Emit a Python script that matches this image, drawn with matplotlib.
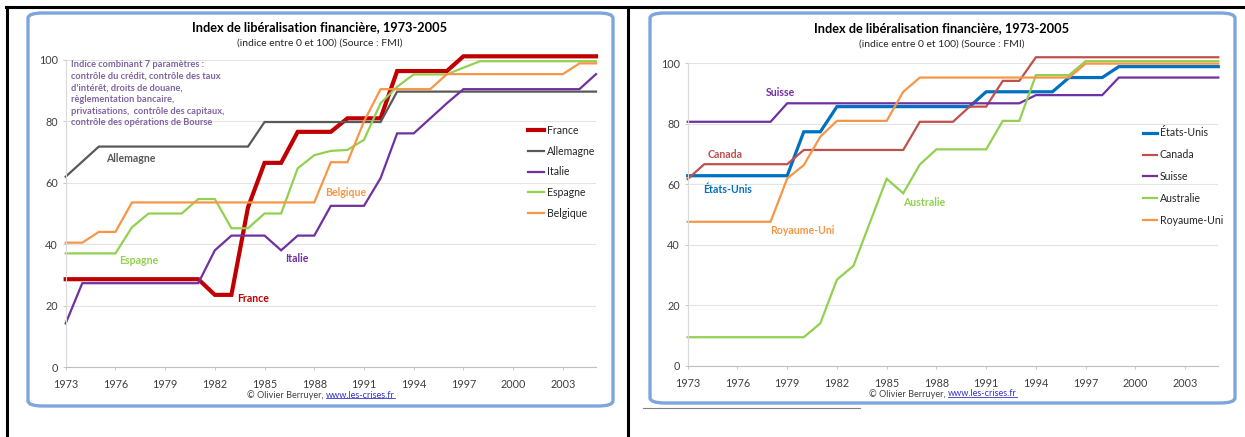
import matplotlib
matplotlib.use("Agg")
import matplotlib.pyplot as plt
from matplotlib.patches import FancyBboxPatch
from matplotlib.lines import Line2D

plt.rcParams['font.family'] = ['Lato', 'DejaVu Sans']

years = list(range(1973, 2006))
year_ticks = list(range(1973, 2004, 3))
y_ticks = [0, 20, 40, 60, 80, 100]

# Europe
france = [28.6] * 9 + [23.5, 23.5, 52, 66.5, 66.5, 76.6, 76.6, 76.6, 81, 81, 81,
                       96.4, 96.4, 96.4, 96.4] + [101.2] * 9
allemagne = [62, 66.9] + [71.8] * 10 + [79.8] * 8 + [89.7] * 13
italie = [14.2] + [27.3] * 8 + [38, 42.8, 42.8, 42.8, 38, 42.8, 42.8, 52.5, 52.5,
                                52.5, 61.5, 76.1, 76.1, 81, 85.9] + [90.5] * 8 + [95.4]
espagne = [37] * 4 + [45.5, 50, 50, 50, 54.7, 54.7, 45.2, 45.2, 50, 50, 64.7, 69,
                      70.4, 70.7, 74, 85.9, 91.3, 95.3, 95.3, 95.3, 97.5] + [99.6] * 8
belgique = [40.5, 40.5, 44, 44] + [53.6] * 12 + [66.7, 66.7, 80] + [90.5] * 4 \
    + [95.4] * 8 + [98.9, 98.9]

# Amerique du Nord, Suisse, Australie, Royaume-Uni
etats_unis = [62.8] * 7 + [77.3, 77.3] + [85.6] * 9 + [90.5] * 5 + [95.2] * 3 + [98.8] * 7
canada = [61.7] + [66.6] * 6 + [71.3] * 7 + [80.6] * 3 + [85.6] * 2 + [94.1] * 2 + [101.9] * 12
suisse = [80.6] * 6 + [86.7] * 15 + [89.4] * 5 + [95.2] * 7
australie = [9.5] * 8 + [14.1, 28.5, 33.1, 47.5, 61.8, 57, 66.5] + [71.5] * 4 \
    + [80.9] * 2 + [96] * 3 + [100.6] * 9
royaume_uni = [47.6] * 6 + [61.9, 66.3, 75.7] + [80.9] * 4 + [90.5] + [95.2] * 10 + [99.8] * 9

left_series = [
    ("France", france, "#C00000", 3.0),
    ("Allemagne", allemagne, "#595959", 1.6),
    ("Italie", italie, "#7030A0", 1.6),
    ("Espagne", espagne, "#92D050", 1.6),
    ("Belgique", belgique, "#F79646", 1.6),
]
right_series = [
    ("États-Unis", etats_unis, "#0070C0", 2.3),
    ("Canada", canada, "#C0504D", 1.6),
    ("Suisse", suisse, "#7030A0", 1.6),
    ("Australie", australie, "#92D050", 1.6),
    ("Royaume-Uni", royaume_uni, "#F79646", 1.6),
]

title = "Index de libéralisation financière, 1973-2005"
subtitle = "(indice entre 0 et 100) (Source : FMI)"
note = ("Indice combinant 7 paramètres :\n"
        "contrôle du crédit, contrôle des taux\n"
        "d'intérêt, droits de douane,\n"
        "règlementation bancaire,\n"
        "privatisations,  contrôle des capitaux,\n"
        "contrôle des opérations de Bourse")

W, H = 1245, 437
fig = plt.figure(figsize=(W / 100, H / 100), dpi=100)
fig.patch.set_facecolor("white")


def fx(px):
    return px / W


def fy(py):
    return 1 - py / H


def panel_box(x0, y0, x1, y1):
    box = FancyBboxPatch((fx(x0), fy(y1)), fx(x1 - x0), (y1 - y0) / H,
                         boxstyle="round,pad=0,rounding_size=0.012",
                         transform=fig.transFigure, facecolor="white",
                         edgecolor="#7FA6DA", linewidth=2.4, zorder=0)
    fig.add_artist(box)


def setup_axes(ax):
    ax.set_xlim(1973, 2005)
    ax.set_ylim(0, 100)
    ax.set_xticks(year_ticks)
    ax.set_yticks(y_ticks)
    ax.tick_params(axis="both", labelsize=7.8, colors="#404040", length=2.5,
                   width=0.6, pad=3)
    ax.tick_params(axis="x", color="#BFBFBF", pad=6)
    ax.tick_params(axis="y", color="#BFBFBF")
    ax.yaxis.grid(True, color="#E3E3E3", linewidth=0.8)
    ax.set_axisbelow(True)
    for s in ("top", "right"):
        ax.spines[s].set_visible(False)
    ax.spines["bottom"].set_color("#BFBFBF")
    ax.spines["left"].set_color("#D9D9D9")
    ax.patch.set_alpha(0)


def footer(xsplit, y):
    fig.text(fx(xsplit), fy(y), "© Olivier Berruyer, ", fontsize=6.6,
             color="#404040", ha="right", va="center")
    return fig.text(fx(xsplit), fy(y), "www.les-crises.fr", fontsize=6.6,
                    color="#3333CC", ha="left", va="center")


# outer table frame
fig.add_artist(Line2D([fx(6), 1], [fy(7), fy(7)], color="black", lw=2.2,
                      transform=fig.transFigure))
fig.add_artist(Line2D([fx(7), fx(7)], [0, fy(7)], color="black", lw=2.2,
                      transform=fig.transFigure))
fig.add_artist(Line2D([fx(628), fx(628)], [0, fy(7)], color="black", lw=2.2,
                      transform=fig.transFigure))
fig.add_artist(Line2D([fx(643), fx(860)], [fy(408), fy(408)], color="#808080",
                      lw=0.8, transform=fig.transFigure))

panel_box(28, 13, 613, 406)
panel_box(650, 13, 1235, 403)

# left panel
axl = fig.add_axes([fx(65.7), fy(367), fx(596 - 65.7), (367 - 60) / H])
setup_axes(axl)
for name, vals, col, lw in left_series:
    axl.plot(years, vals, color=col, lw=lw, label=name, clip_on=False,
             solid_joinstyle="miter")
fig.text(fx(320), fy(27), title, fontsize=9.2, fontweight="bold",
         ha="center", va="center", color="black")
fig.text(fx(320), fy(43), subtitle, fontsize=7.5, ha="center", va="center",
         color="#262626")
fig.text(fx(71), fy(60), note, fontsize=6.7, fontweight="bold", color="#8064A2",
         ha="left", va="top", linespacing=1.38)
left_labels = [("Allemagne", 106, 158, "#595959"), ("Espagne", 119, 260, "#92D050"),
               ("France", 237, 298, "#C00000"), ("Italie", 285, 258, "#7030A0"),
               ("Belgique", 325, 193, "#F79646")]
for txt, x, y, col in left_labels:
    fig.text(fx(x), fy(y), txt, fontsize=7.6, fontweight="bold", color=col,
             ha="left", va="center")
axl.legend(loc="upper left", bbox_to_anchor=(fx(528), fy(125)),
           bbox_transform=fig.transFigure, frameon=False, fontsize=7.6,
           handlelength=1.55, handletextpad=0.25, labelspacing=0.92,
           borderpad=0, borderaxespad=0, labelcolor="#262626")

# right panel
axr = fig.add_axes([fx(687.7), fy(366), fx(1218.3 - 687.7), (366 - 63) / H])
setup_axes(axr)
for name, vals, col, lw in right_series:
    axr.plot(years, vals, color=col, lw=lw, label=name, clip_on=False,
             solid_joinstyle="miter")
fig.text(fx(942), fy(28), title, fontsize=9.2, fontweight="bold",
         ha="center", va="center", color="black")
fig.text(fx(942), fy(44), subtitle, fontsize=7.5, ha="center", va="center",
         color="#262626")
right_labels = [("Suisse", 766, 93, "#7030A0"), ("Canada", 708, 154, "#C0504D"),
                ("États-Unis", 703, 189, "#0070C0"), ("Australie", 903, 202, "#92D050"),
                ("Royaume-Uni", 770, 231, "#F79646")]
for txt, x, y, col in right_labels:
    fig.text(fx(x), fy(y), txt, fontsize=7.6, fontweight="bold", color=col,
             ha="left", va="center")
axr.legend(loc="upper left", bbox_to_anchor=(fx(1142.7), fy(127.5)),
           bbox_transform=fig.transFigure, frameon=False, fontsize=7.6,
           handlelength=1.35, handletextpad=0.25, labelspacing=1.02,
           borderpad=0, borderaxespad=0, labelcolor="#262626")

links = [footer(326, 395), footer(948, 394)]

# underline the web address
fig.canvas.draw()
inv = fig.transFigure.inverted()
for t in links:
    bb = t.get_window_extent()
    (x0, y0), (x1, y1) = inv.transform([(bb.x0, bb.y0), (bb.x1, bb.y1)])
    fig.add_artist(Line2D([x0, x1], [y0 + 0.004, y0 + 0.004], color="#3333CC",
                          lw=0.6, transform=fig.transFigure))

fig.savefig("out.png", dpi=100)
